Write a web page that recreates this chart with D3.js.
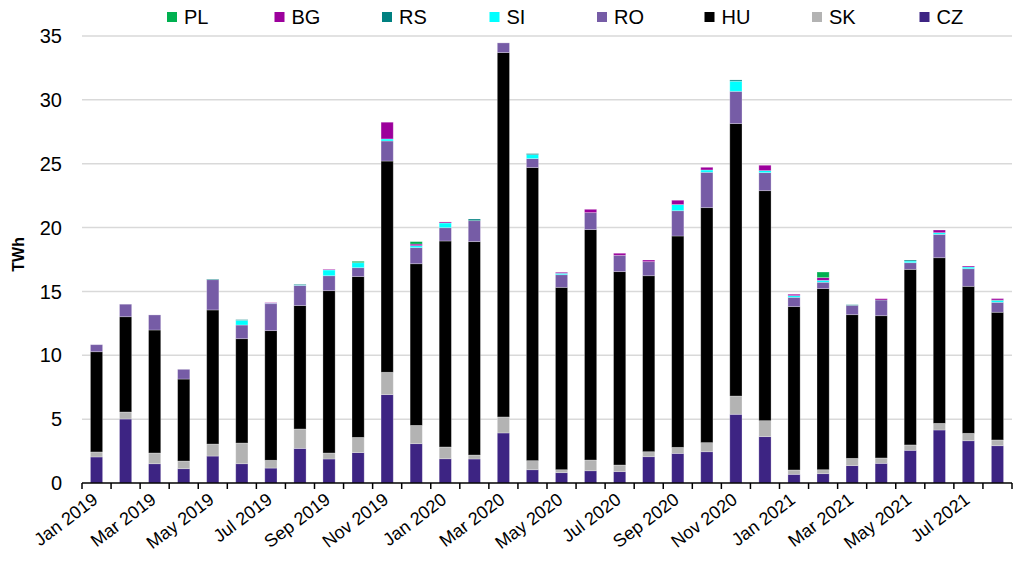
<!DOCTYPE html>
<html>
<head>
<meta charset="utf-8">
<script src="https://cdn.jsdelivr.net/npm/d3@7"></script>
<style>
  body { margin: 0; background: #fff; }
  svg { font-family: "Liberation Sans", Arial, sans-serif; }
</style>
</head>
<body>
<div id="chart"></div>
<script>
const months = [
    "Jan 2019", "Feb 2019", "Mar 2019", "Apr 2019", "May 2019", "Jun 2019",
    "Jul 2019", "Aug 2019", "Sep 2019", "Oct 2019", "Nov 2019", "Dec 2019",
    "Jan 2020", "Feb 2020", "Mar 2020", "Apr 2020", "May 2020", "Jun 2020",
    "Jul 2020", "Aug 2020", "Sep 2020", "Oct 2020", "Nov 2020", "Dec 2020",
    "Jan 2021", "Feb 2021", "Mar 2021", "Apr 2021", "May 2021", "Jun 2021",
    "Jul 2021", "Aug 2021"
];

// stacked bottom -> top
const CZ = [2.04, 5.01, 1.51, 1.12, 2.11, 1.51, 1.17, 2.71, 1.88, 2.38, 6.92, 3.08,
            1.90, 1.88, 3.92, 1.04, 0.81, 0.96, 0.89, 2.06, 2.32, 2.45, 5.38, 3.63,
            0.68, 0.73, 1.36, 1.54, 2.56, 4.15, 3.31, 2.92];
const SK = [0.39, 0.55, 0.84, 0.60, 0.94, 1.62, 0.61, 1.52, 0.47, 1.19, 1.75, 1.43,
            0.92, 0.31, 1.25, 0.71, 0.23, 0.84, 0.52, 0.39, 0.47, 0.71, 1.43, 1.25,
            0.34, 0.31, 0.57, 0.42, 0.42, 0.52, 0.58, 0.45];
const HU = [7.85, 7.46, 9.63, 6.42, 10.50, 8.17, 10.15, 9.66, 12.71, 12.59, 16.54, 12.66,
            16.13, 16.71, 28.53, 22.95, 14.28, 18.04, 15.14, 13.78, 16.55, 18.40, 21.33, 18.01,
            12.79, 14.18, 11.25, 11.14, 13.75, 12.97, 11.51, 10.00];
const RO = [0.55, 0.98, 1.18, 0.76, 2.37, 1.07, 2.11, 1.59, 1.17, 0.70, 1.57, 1.26,
            1.04, 1.64, 0.76, 0.70, 0.99, 1.33, 1.28, 1.10, 1.98, 2.77, 2.53, 1.41,
            0.73, 0.50, 0.73, 1.23, 0.52, 1.83, 1.38, 0.78];
const SI = [0, 0, 0, 0, 0, 0.37, 0.03, 0.03, 0.45, 0.39, 0.16, 0.15,
            0.37, 0, 0, 0.31, 0.11, 0, 0, 0, 0.48, 0.18, 0.79, 0.16,
            0.13, 0.15, 0, 0, 0.13, 0.13, 0.13, 0.13];
const RS = [0, 0, 0, 0, 0.05, 0.05, 0, 0.05, 0, 0, 0, 0,
            0, 0.13, 0, 0.08, 0, 0, 0, 0, 0, 0, 0.10, 0,
            0, 0, 0.05, 0, 0.08, 0, 0, 0.05];
const BG = [0, 0, 0, 0, 0, 0, 0.05, 0, 0.05, 0, 1.31, 0.13,
            0.08, 0, 0, 0, 0.08, 0.26, 0.16, 0.13, 0.34, 0.21, 0, 0.42,
            0.11, 0.21, 0, 0.10, 0, 0.21, 0.08, 0.11];
const PL = [0, 0, 0, 0, 0, 0, 0, 0, 0, 0.11, 0, 0.19,
            0, 0, 0, 0, 0, 0, 0, 0, 0, 0, 0, 0,
            0, 0.44, 0, 0, 0, 0, 0, 0];

const seriesNames = ["CZ", "SK", "HU", "RO", "SI", "RS", "BG", "PL"];
const seriesValues = [CZ, SK, HU, RO, SI, RS, BG, PL];
const colors = {
    CZ: "#3d2483", SK: "#b3b3b3", HU: "#000000", RO: "#765ca6",
    SI: "#00ffff", RS: "#008080", BG: "#9c009c", PL: "#00b050"
};
const legendOrder = ["PL", "BG", "RS", "SI", "RO", "HU", "SK", "CZ"];
const yTicks = [0, 5, 10, 15, 20, 25, 30, 35];

const width = 1014;
const height = 565;
const margin = {top: 36, right: 2, bottom: 82, left: 82};

const rows = months.map((m, i) => {
    const r = {month: m};
    seriesNames.forEach((s, j) => r[s] = seriesValues[j][i]);
    return r;
});

const stack = d3.stack().keys(seriesNames)(rows);

const svg = d3.select("#chart").append("svg")
    .attr("width", width)
    .attr("height", height);

const x = d3.scaleBand()
    .domain(months)
    .range([margin.left, width - margin.right])
    .paddingInner(0.58)
    .paddingOuter(0.29);

const y = d3.scaleLinear()
    .domain([0, 35])
    .range([height - margin.bottom, margin.top]);

// gridlines
svg.append("g")
    .selectAll("line")
    .data(yTicks.slice(1))
    .join("line")
    .attr("x1", margin.left)
    .attr("x2", width - margin.right)
    .attr("y1", d => y(d))
    .attr("y2", d => y(d))
    .attr("stroke", "#d9d9d9")
    .attr("stroke-width", 1.5);

// y labels
svg.append("g")
    .selectAll("text")
    .data(yTicks)
    .join("text")
    .attr("x", 62)
    .attr("y", d => y(d))
    .attr("dy", "0.36em")
    .attr("text-anchor", "end")
    .attr("font-size", 20)
    .attr("fill", "#000")
    .text(d => d);

svg.append("text")
    .attr("transform", `translate(24,${y(17.9)}) rotate(-90)`)
    .attr("text-anchor", "middle")
    .attr("font-size", 16)
    .attr("font-weight", "bold")
    .text("TWh");

// bars
svg.append("g")
    .selectAll("g")
    .data(stack)
    .join("g")
    .attr("fill", d => colors[d.key])
    .selectAll("rect")
    .data(d => d.filter(p => p[1] - p[0] > 0))
    .join("rect")
    .attr("x", d => x(d.data.month))
    .attr("width", x.bandwidth())
    .attr("y", d => y(d[1]))
    .attr("height", d => y(d[0]) - y(d[1]))
    .attr("stroke", "rgba(255,255,255,0.35)")
    .attr("stroke-width", 0.8);

// x axis
const step = x.step();
const axisY = y(0);
const xAxis = svg.append("g");
xAxis.append("line")
    .attr("x1", margin.left)
    .attr("x2", width - margin.right)
    .attr("y1", axisY)
    .attr("y2", axisY)
    .attr("stroke", "#000")
    .attr("stroke-width", 1.5);
xAxis.selectAll("line.tick")
    .data(d3.range(months.length + 1))
    .join("line")
    .attr("class", "tick")
    .attr("x1", i => margin.left + i * step)
    .attr("x2", i => margin.left + i * step)
    .attr("y1", axisY)
    .attr("y2", axisY + 6)
    .attr("stroke", "#000")
    .attr("stroke-width", 1.5);

xAxis.selectAll("text")
    .data(months.filter((m, i) => i % 2 === 0))
    .join("text")
    .attr("transform", d => `translate(${x(d) + x.bandwidth() / 2 - 5},${axisY + 9}) rotate(-37)`)
    .attr("text-anchor", "end")
    .attr("dy", "0.7em")
    .attr("font-size", 18)
    .text(d => d);

// legend
const legend = svg.append("g")
    .selectAll("g")
    .data(legendOrder)
    .join("g")
    .attr("transform", (d, i) => `translate(${167 + i * 107.5},17)`);
legend.append("rect")
    .attr("x", 0)
    .attr("y", -5)
    .attr("width", 10)
    .attr("height", 10)
    .attr("fill", d => colors[d]);
legend.append("text")
    .attr("x", 17)
    .attr("dy", "0.36em")
    .attr("font-size", 20)
    .text(d => d);
</script>
</body>
</html>
